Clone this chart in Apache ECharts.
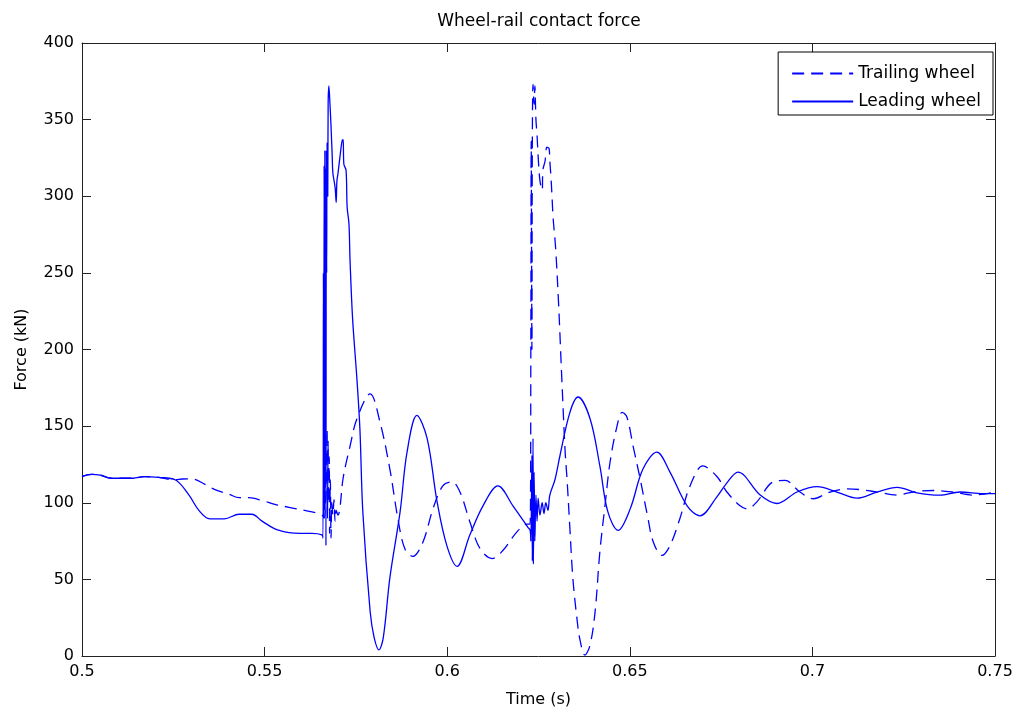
<!DOCTYPE html>
<html>
<head>
<meta charset="utf-8">
<script src="https://cdn.jsdelivr.net/npm/echarts@6/dist/echarts.min.js"></script>
<style>
html,body{margin:0;padding:0;background:#fff;}
#chart{width:1018px;height:713px;}
</style>
</head>
<body>
<div id="chart"></div>
<script>
var titleText = 'Wheel-rail contact force';
var xName = 'Time (s)';
var yName = 'Force (kN)';
var seriesNames = ['Trailing wheel', 'Leading wheel'];

var trailingWheel = [
[0.5,117],[0.5025,118.5],[0.505,118],[0.508,116],[0.514,116],[0.517,117],[0.521,116.5],[0.5255,115],
[0.5274,115.5],[0.5301,115.6],[0.5337,112],[0.5364,108.6],[0.5403,105.5],[0.543,103.3],[0.5457,103.3],
[0.5493,101.5],[0.5528,99],[0.5567,97],[0.563,94],[0.5657,92],[0.5663,90],
[0.5668,110],[0.5671,148],[0.5672,90],[0.5674,140],[0.5675,100],[0.5677,130],[0.5678,80],[0.568,115],
[0.5682,77],[0.5684,100],[0.5687,92],[0.569,102],[0.5693,88],[0.5696,95],[0.5701,92],[0.5706,96],
[0.5715,116],[0.5734,137],[0.5753,155],[0.5789,171],[0.5816,152.6],[0.5843,122],[0.5865,89.6],
[0.5884,70],[0.5906,65],[0.5934,74.6],[0.5961,96],[0.5988,111],[0.6013,113.6],[0.6035,107],
[0.6062,87.6],[0.609,70],[0.6123,63.6],[0.6153,69],[0.6191,81],[0.6219,86],[0.6227,86],
[0.6229,200],[0.623,336],[0.6232,200],[0.6233,330],[0.6235,373],[0.6238,360],[0.624,372],[0.6243,350],
[0.6246,340],[0.6249,326],[0.6254,310],[0.626,304],[0.6262,317],[0.6268,323],[0.6273,332],[0.6279,331],
[0.6281,323],[0.6284,313],[0.6287,300],[0.629,286],[0.6295,272],[0.6298,262],[0.6305,230],[0.6314,180],
[0.6323,133],[0.6328,116],[0.6336,83],[0.6344,51],[0.6355,25],[0.6364,10],[0.6377,0.6],[0.6391,7],
[0.6405,29],[0.6418,68],[0.6432,98],[0.6446,126.6],[0.6465,150],[0.6479,159],[0.6492,156],[0.6509,137],
[0.6528,116],[0.655,89.6],[0.6564,74.6],[0.6588,65.6],[0.661,72],[0.6637,89.6],[0.6665,111],[0.67,124],
[0.6739,117],[0.6766,107],[0.6802,98],[0.6821,96],[0.6848,100.6],[0.6892,113.6],[0.6925,114.6],
[0.6966,107],[0.7002,102.6],[0.7048,107],[0.7095,109],[0.713,108.6],[0.7177,107],[0.7232,105],
[0.7275,107],[0.733,108],[0.7385,107],[0.744,105],[0.75,107]
];

var leadingWheel = [
[0.5,117],[0.5025,118.5],[0.505,118],[0.508,116],[0.514,116],[0.517,117],[0.521,116.5],[0.5255,115],
[0.5293,105],[0.532,95],[0.535,89.5],[0.539,89.5],[0.543,92.5],[0.5465,92.5],[0.5493,88],[0.5528,83],
[0.5567,80.5],[0.5597,80],[0.563,80],[0.5657,79],[0.566,77],
[0.5661,250],[0.5662,90],[0.5663,320],[0.5664,95],[0.5665,330],[0.5666,110],[0.5667,318],[0.5668,72],
[0.5669,330],[0.567,250],[0.5671,335],[0.5673,300],[0.5674,360],[0.5676,372],[0.5679,360],[0.5682,345],
[0.5685,327],[0.5687,315],[0.5693,306],[0.5696,296],[0.5698,310],[0.5701,315],[0.5706,325],[0.5712,336],
[0.5715,337],[0.5717,321],[0.5723,317],[0.5726,293],[0.5731,282],[0.5734,258],[0.5741,220],[0.5753,180],
[0.5761,148],[0.5769,94],[0.5789,29],[0.58,12],[0.5813,4],[0.5825,12],[0.5843,51],[0.5871,94],
[0.589,133],[0.5917,157],[0.5945,142],[0.5972,101],[0.5999,72],[0.6027,58.5],[0.6062,79],[0.6098,98],
[0.6139,111],[0.618,98],[0.6221,84],[0.6227,82],
[0.6229,75],[0.6232,131],[0.6233,62],[0.6235,142],[0.6236,60],[0.6238,120],[0.624,75],[0.6243,105],
[0.6246,88],[0.6249,103],[0.6254,92],[0.626,100],[0.6265,93],[0.627,100],[0.6276,95],[0.6281,105],
[0.6295,115],[0.6309,131],[0.6336,159],[0.6358,169],[0.6391,155],[0.6418,124],[0.644,94],[0.6468,82],
[0.6501,96],[0.6536,122],[0.6574,133],[0.661,120],[0.6657,98],[0.6692,91.5],[0.6739,104],[0.6766,113],
[0.6796,120],[0.6857,105],[0.6903,99.5],[0.6958,107],[0.7013,110.5],[0.7067,107],[0.7122,103],
[0.7177,107],[0.7232,110],[0.7286,106.5],[0.7349,105],[0.7404,107],[0.7467,106],[0.75,106]
];

var FONT = 'DejaVu Sans, Liberation Sans, sans-serif';
var AX = '#222';
var chart = echarts.init(document.getElementById('chart'), null, {renderer:'canvas'});

function xAx(pos, showLabel){
  return {
    type:'value', position:pos, min:0.5, max:0.75, interval:0.05,
    name: showLabel ? xName : '', nameLocation:'middle', nameGap:36,
    nameTextStyle:{color:'#000', fontFamily:FONT, fontSize:16},
    axisLine:{show:true, onZero:false, lineStyle:{color:AX, width:1}},
    axisTick:{show:true, inside:true, length:9, lineStyle:{color:AX}},
    axisLabel:{show:showLabel, color:'#000', fontFamily:FONT, fontSize:16, margin:8},
    splitLine:{show:false}
  };
}
function yAx(pos, showLabel){
  return {
    type:'value', position:pos, min:0, max:400, interval:50,
    name: showLabel ? yName : '', nameLocation:'middle', nameGap:52, nameRotate:90,
    nameTextStyle:{color:'#000', fontFamily:FONT, fontSize:16},
    axisLine:{show:true, onZero:false, lineStyle:{color:AX, width:1}},
    axisTick:{show:true, inside:true, length:9, lineStyle:{color:AX}},
    axisLabel:{show:showLabel, color:'#000', fontFamily:FONT, fontSize:16, margin:8},
    splitLine:{show:false}
  };
}

chart.setOption({
  backgroundColor:'#fff',
  animation:false,
  title:{text:titleText, left:534, top:8, textAlign:'center',
    textStyle:{color:'#000', fontFamily:FONT, fontSize:17, fontWeight:'normal'}},
  grid:{left:82, right:23, top:43, bottom:55, containLabel:false},
  legend:{
    orient:'vertical', right:25, top:52, itemWidth:61, itemHeight:14, itemGap:11,
    padding:[13,12,5,13], backgroundColor:'#fff', borderColor:'#000', borderWidth:1,
    itemStyle:{opacity:0},
    textStyle:{color:'#000', fontFamily:FONT, fontSize:17},
    data:seriesNames
  },
  xAxis:[xAx('bottom', true), xAx('top', false)],
  yAxis:[yAx('left', true), yAx('right', false)],
  series:[
    {name:seriesNames[0], type:'line', data:trailingWheel, showSymbol:false, symbol:'none',
     smooth:0.35,
     lineStyle:{color:'#0000ff', width:1.3, type:[12,7]}, itemStyle:{color:'#0000ff'}},
    {name:seriesNames[1], type:'line', data:leadingWheel, showSymbol:false, symbol:'none',
     smooth:0.35,
     lineStyle:{color:'#0000ff', width:1.3, type:'solid'}, itemStyle:{color:'#0000ff'}}
  ]
});
</script>
</body>
</html>
